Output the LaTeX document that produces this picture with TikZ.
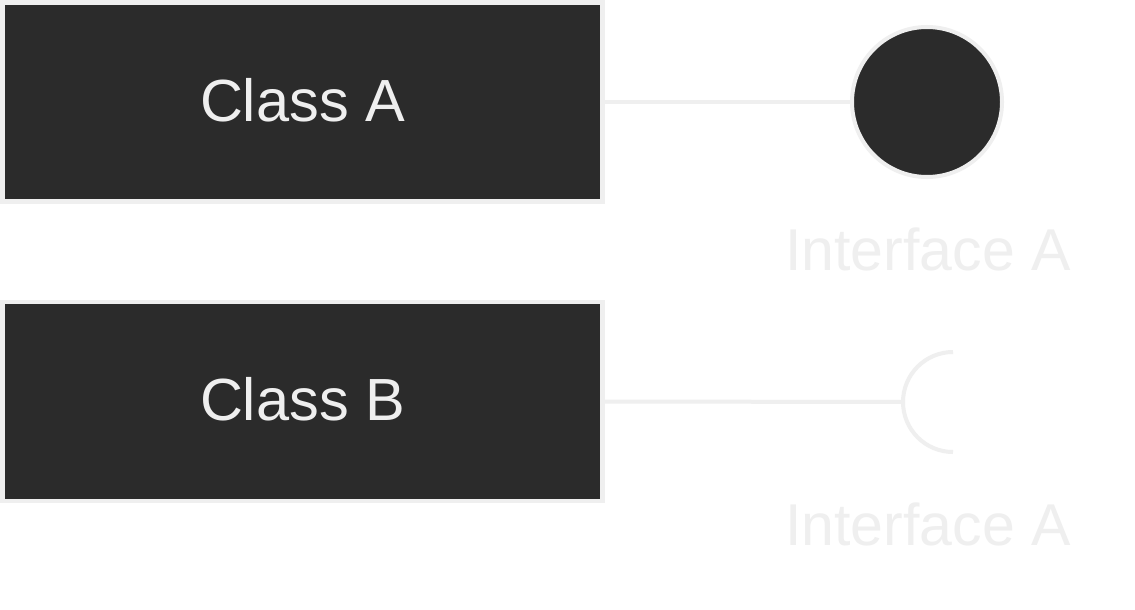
\documentclass[tikz,border=0pt]{standalone}
\usepackage{fontspec}
\setmainfont{Liberation Sans}
\definecolor{boxfill}{HTML}{2B2B2B}
\definecolor{edge}{HTML}{EFEFEF}
\begin{document}
\begin{tikzpicture}[x=1pt,y=-1pt,
        classbox/.style={draw=edge,fill=boxfill,line width=4.5pt,
            minimum width=600pt,minimum height=199pt,inner sep=0pt,
            text depth=5pt,text=edge,font=\fontsize{59.5}{72}\selectfont},
        provided/.style={circle,draw=edge,fill=boxfill,line width=4pt,
            minimum size=150pt,inner sep=0pt},
        ifacelabel/.style={text=edge,font=\fontsize{59}{70}\selectfont,
            inner sep=0pt,anchor=base},
        wire/.style={draw=edge,line width=4pt}]
        \useasboundingbox[fill=white] (0,0) rectangle (1135,610);
        %% Classes
        \node[classbox] (classA) at (302.5,102) {Class A};
        \node[classbox] (classB) at (302.5,401.5) {Class B};
        %% Provided interface (ball)
        \node[provided] (provA) at (927,102) {};
        \draw[wire] (classA.east) -- (provA.west);
        \node[ifacelabel] (provLabel) at (928,270) {Interface A};
        %% Required interface (socket)
        \coordinate (sockB) at (903,402);
        \draw[wire] (classB.east) -- (sockB);
        \draw[wire] ([shift={(50,-50)}]sockB)
            arc[start angle=270,end angle=90,radius=50];
        \node[ifacelabel] (sockLabel) at (928,545) {Interface A};
    \end{tikzpicture}
\end{document}
